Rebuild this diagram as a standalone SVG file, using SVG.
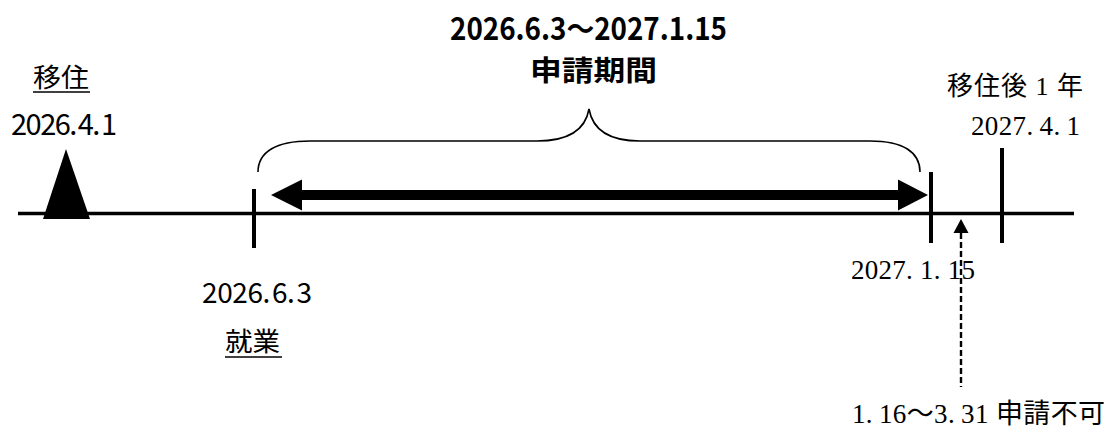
<svg xmlns="http://www.w3.org/2000/svg" width="1111" height="427" viewBox="0 0 1111 427">
<style>
.g{font-family:"Noto Sans CJK JP","Liberation Sans",sans-serif;fill:#000}
.m{font-family:"Liberation Serif","Noto Sans CJK JP",serif;fill:#000}
.ln{stroke:#000;fill:none}
.tick{stroke:#000;stroke-width:4;fill:none}
</style>
<rect width="1111" height="427" fill="#fff"/>
<g id="timeline">
<line class="ln" x1="18" y1="213.5" x2="1074" y2="213.5" stroke-width="3.5"/>
</g>
<g id="move-in">
<polygon points="66,149 43,219 90,219" fill="#000"/>
<text class="g" x="33" y="87" font-size="26" textLength="56" lengthAdjust="spacingAndGlyphs">移住</text>
<line class="ln" x1="33" y1="92" x2="90" y2="92" stroke-width="1.5"/>
<text class="g" x="11" y="135" font-size="29" textLength="106" lengthAdjust="spacing">2026.<tspan dx="2">4.</tspan><tspan dx="2">1</tspan></text>
</g>
<g id="employment">
<line class="tick" x1="254" y1="189" x2="254" y2="248"/>
<text class="g" x="202" y="303" font-size="28" textLength="110" lengthAdjust="spacing">2026.<tspan dx="2">6.</tspan><tspan dx="2">3</tspan></text>
<text class="g" x="225" y="351" font-size="26" textLength="55" lengthAdjust="spacingAndGlyphs">就業</text>
<line class="ln" x1="225" y1="357" x2="282" y2="357" stroke-width="1.5"/>
</g>
<g id="period">
<path class="ln" stroke-width="1.6" d="M258,172 C258,152 276,141 310,141 L537,141 C566,141 585,132 589,109 C593,132 612,141 640,141 L870,141 C903,141 920,152 920,172"/>
<text class="g" x="450" y="40" font-size="31" font-weight="bold" textLength="277" lengthAdjust="spacingAndGlyphs">2026.6.3〜2027.1.15</text>
<text class="g" x="530" y="81" font-size="28" font-weight="bold" textLength="127" lengthAdjust="spacingAndGlyphs">申請期間</text>
</g>
<g id="deadline">
<line class="tick" x1="931" y1="172" x2="931" y2="243"/>
<text class="m" x="851" y="279" font-size="27" textLength="124" lengthAdjust="spacing">2027.<tspan dx="7">1.</tspan><tspan dx="7">15</tspan></text>
</g>
<g id="one-year">
<line class="tick" x1="1002" y1="148" x2="1002" y2="243"/>
<text class="m" x="947" y="95" font-size="26" textLength="136" lengthAdjust="spacing">移住後 1 年</text>
<text class="m" x="971" y="135" font-size="27" textLength="109" lengthAdjust="spacing">2027.<tspan dx="6">4.</tspan><tspan dx="6">1</tspan></text>
</g>
<g id="no-application">
<text class="m" x="852" y="423" font-size="27" textLength="253" lengthAdjust="spacing">1.<tspan dx="6">16〜3.</tspan><tspan dx="6">31 申請不可</tspan></text>
</g>
<g id="connectors">
<line class="ln" x1="302" y1="195" x2="898" y2="195" stroke-width="10"/>
<polygon points="271,195 302,179.5 302,210.5" fill="#000"/>
<polygon points="928,195 898,179.5 898,210.5" fill="#000"/>
<line class="ln" x1="961" y1="233" x2="961" y2="387" stroke-width="2.4" stroke-dasharray="6 3"/>
<polygon points="961,219 953.5,233 968.5,233" fill="#000"/>
</g>
</svg>
